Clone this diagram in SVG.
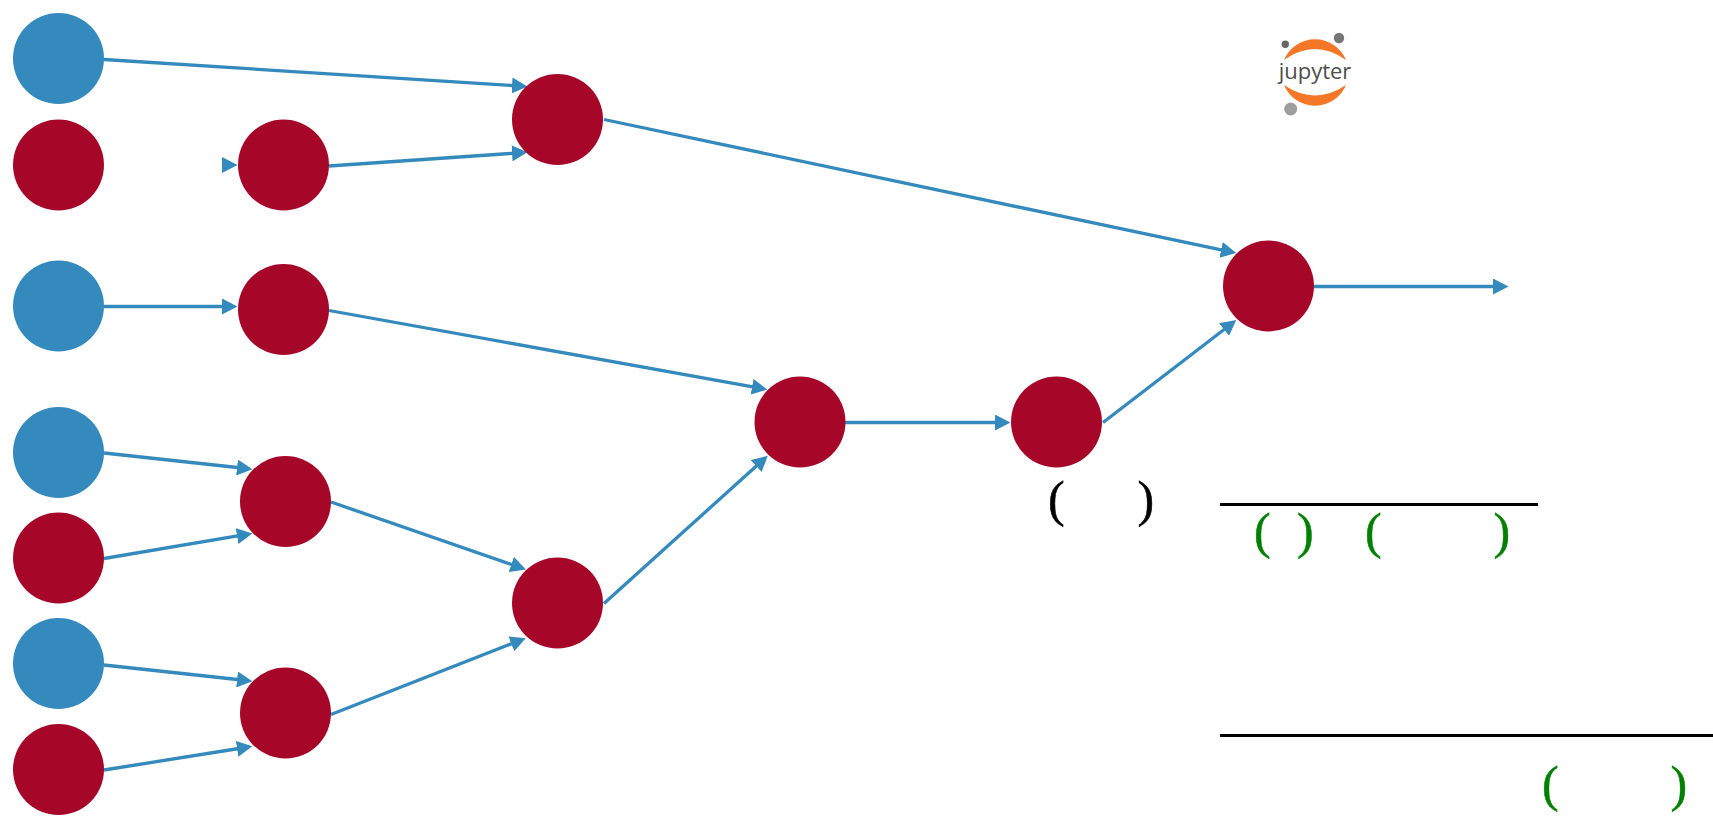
<svg xmlns="http://www.w3.org/2000/svg" width="1713" height="820" viewBox="0 0 1713 820">
<style>
.b{fill:#348abd}.r{fill:#a60628}
.c line{stroke:#348abd;stroke-width:3.300;marker-end:url(#a)}
.p{font-family:"Liberation Serif",serif;font-size:50px;stroke-width:.5px}
.g{fill:#008000;stroke:#008000}.k{fill:#000;stroke:#000}
.rule{stroke:#000;stroke-width:3}
</style>
<defs><marker id="a" markerUnits="userSpaceOnUse" markerWidth="16" markerHeight="16" refX="5" refY="8" orient="auto"><path d="M0 0L15.500 8L0 16Z" fill="#348abd"/></marker></defs>
<rect width="1713" height="820" fill="#fff"/>
<g id="connectors" class="c">
<line x1="104" y1="59.500" x2="517" y2="85.800"/>
<line x1="329" y1="166" x2="517" y2="153"/>
<line x1="604" y1="119.500" x2="1226" y2="250.900"/>
<line x1="104" y1="306.500" x2="227" y2="306.500"/>
<line x1="329" y1="310.500" x2="757" y2="387.700"/>
<line x1="104" y1="453" x2="242" y2="468"/>
<line x1="104" y1="558.500" x2="242" y2="535.200"/>
<line x1="331" y1="502" x2="516" y2="566"/>
<line x1="104" y1="665" x2="242" y2="680"/>
<line x1="104" y1="770" x2="242" y2="748"/>
<line x1="331" y1="714.500" x2="516" y2="642"/>
<line x1="604" y1="603.500" x2="760" y2="462.700"/>
<line x1="845" y1="422.500" x2="1000" y2="422.500"/>
<line x1="1103" y1="422.500" x2="1228" y2="326.500"/>
<line x1="1314" y1="286.500" x2="1498" y2="286.500"/>
</g>
<path id="stub" d="M222 157L237.500 165L222 173Z" fill="#348abd"/>
<g id="n1"><circle class="b" cx="58.500" cy="58.500" r="45.500"/></g>
<g id="n2"><circle class="r" cx="58.500" cy="165" r="45.500"/></g>
<g id="n3"><circle class="b" cx="58.500" cy="306" r="45.500"/></g>
<g id="n4"><circle class="b" cx="58.500" cy="452.500" r="45.500"/></g>
<g id="n5"><circle class="r" cx="58.500" cy="558" r="45.500"/></g>
<g id="n6"><circle class="b" cx="58.500" cy="663.500" r="45.500"/></g>
<g id="n7"><circle class="r" cx="58.500" cy="769.500" r="45.500"/></g>
<g id="n8"><circle class="r" cx="283.500" cy="165" r="45.500"/></g>
<g id="n9"><circle class="r" cx="283.500" cy="309.500" r="45.500"/></g>
<g id="n10"><circle class="r" cx="285.500" cy="501.500" r="45.500"/></g>
<g id="n11"><circle class="r" cx="285.500" cy="713" r="45.500"/></g>
<g id="n12"><circle class="r" cx="557.500" cy="119.500" r="45.500"/></g>
<g id="n13"><circle class="r" cx="557.500" cy="603" r="45.500"/></g>
<g id="n14"><circle class="r" cx="800" cy="422" r="45.500"/></g>
<g id="n15"><circle class="r" cx="1056.500" cy="422" r="45.500"/></g>
<g id="n16"><circle class="r" cx="1268.500" cy="286" r="45.500"/></g>
<g id="logo">
<path d="M1284 60A33.500 33.500 0 0 1 1346 60Q1315 38 1284 60Z" fill="#f37726"/>
<path d="M1284 85A33.500 33.500 0 0 0 1346 85Q1315 106 1284 85Z" fill="#f37726"/>
<circle cx="1285.300" cy="44.300" r="3.700" fill="#666"/>
<circle cx="1339" cy="38" r="5.200" fill="#767677"/>
<circle cx="1290.700" cy="109" r="6.500" fill="#9e9e9e"/>
<text x="1315" y="79" text-anchor="middle" font-family="'Open Sans',sans-serif" font-size="22" fill="#4e4e4e">jupyter</text>
</g>
<line class="rule" x1="1220" y1="504.500" x2="1538" y2="504.500"/>
<line class="rule" x1="1220" y1="735.500" x2="1713" y2="735.500"/>
<g class="p">
<text class="k" x="1048" y="516">(</text><text class="k" x="1137.500" y="516">)</text>
<text class="g" x="1254" y="548">(</text><text class="g" x="1297" y="548">)</text>
<text class="g" x="1365" y="548">(</text><text class="g" x="1493.500" y="548">)</text>
<text class="g" x="1542" y="801">(</text><text class="g" x="1670.500" y="801">)</text>
</g>
</svg>
